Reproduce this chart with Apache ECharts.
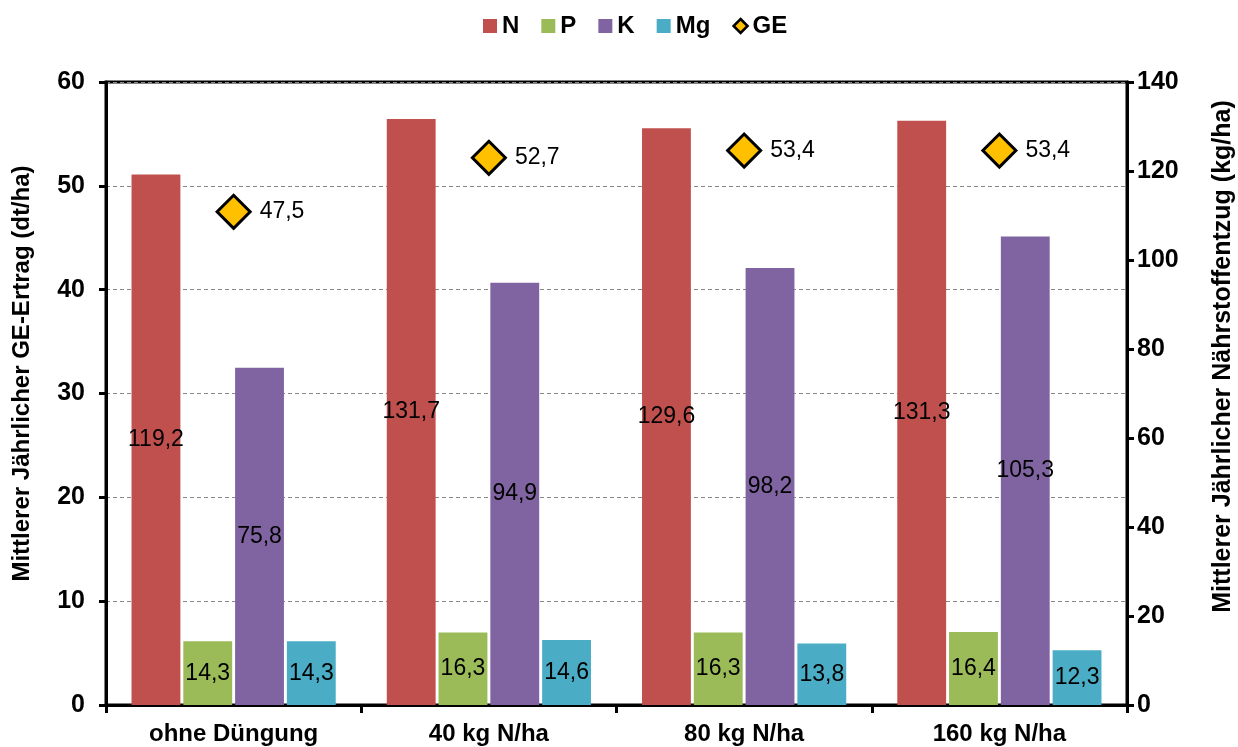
<!DOCTYPE html>
<html>
<head>
<meta charset="utf-8">
<script src="https://cdn.jsdelivr.net/npm/echarts@6/dist/echarts.min.js"></script>
<style>
  html, body { margin: 0; padding: 0; background: #fff; }
  #chart { width: 1238px; height: 747px; }
</style>
</head>
<body>
<div id="chart"></div>
<script>
  // Kategorien und Werte
  var categories = ['ohne Düngung', '40 kg N/ha', '80 kg N/ha', '160 kg N/ha'];
  var nData = [119.2, 131.7, 129.6, 131.3];
  var pData = [14.3, 16.3, 16.3, 16.4];
  var kData = [75.8, 94.9, 98.2, 105.3];
  var mgData = [14.3, 14.6, 13.8, 12.3];
  var geData = [47.5, 52.7, 53.4, 53.4];

  var font = '"Liberation Sans", Arial, sans-serif';

  function komma(p) {
    return String(p.value).replace('.', ',');
  }

  function barSeries(name, color, data) {
    return {
      name: name,
      type: 'bar',
      yAxisIndex: 1,
      barGap: '6%',
      barCategoryGap: '20%',
      itemStyle: { color: color },
      label: {
        show: true,
        position: 'inside',
        color: '#000',
        fontFamily: font,
        fontSize: 23,
        formatter: komma
      },
      data: data
    };
  }

  var myChart = echarts.init(document.getElementById('chart'));
  myChart.setOption({
    animation: false,
    textStyle: { fontFamily: font },
    legend: {
      top: 9,
      left: 478,
      itemWidth: 14,
      itemHeight: 14,
      itemGap: 22,
      textStyle: { fontFamily: font, fontSize: 24, fontWeight: 'bold', color: '#000' },
      data: [
        { name: 'N', icon: 'rect' },
        { name: 'P', icon: 'rect' },
        { name: 'K', icon: 'rect' },
        { name: 'Mg', icon: 'rect' },
        { name: 'GE', icon: 'diamond', itemStyle: { color: '#FFC000', borderColor: '#000', borderWidth: 2.5, opacity: 1 } }
      ]
    },
    grid: {
      left: 106,
      right: 111,
      top: 82,
      bottom: 42,
      outerBoundsMode: 'none',
      containLabel: false,
      show: true,
      borderColor: '#000',
      borderWidth: 3
    },
    xAxis: {
      type: 'category',
      data: categories,
      axisLine: { lineStyle: { color: '#000', width: 3 } },
      axisTick: { show: true, length: 8, lineStyle: { color: '#000', width: 3 } },
      axisLabel: { color: '#000', fontFamily: font, fontSize: 24, fontWeight: 'bold', margin: 17 }
    },
    yAxis: [
      {
        type: 'value',
        min: 0,
        max: 60,
        interval: 10,
        name: 'Mittlerer Jährlicher GE-Ertrag (dt/ha)',
        nameLocation: 'middle',
        nameGap: 72,
        nameTextStyle: { color: '#000', fontFamily: font, fontSize: 24, fontWeight: 'bold', padding: [0, 0, 0, 40] },
        axisLine: { show: true, lineStyle: { color: '#000', width: 3 } },
        axisTick: { show: true, length: 7, lineStyle: { color: '#000', width: 3 } },
        axisLabel: { color: '#000', fontFamily: font, fontSize: 25, fontWeight: 'bold', margin: 21 },
        splitLine: { show: true, lineStyle: { color: '#888', type: [4, 3], width: 1 } }
      },
      {
        type: 'value',
        min: 0,
        max: 140,
        interval: 20,
        name: 'Mittlerer Jährlicher Nährstoffentzug (kg/ha)',
        nameLocation: 'middle',
        nameGap: 84,
        nameTextStyle: { color: '#000', fontFamily: font, fontSize: 25, fontWeight: 'bold', padding: [0, 0, 0, 74] },
        axisLine: { show: true, lineStyle: { color: '#000', width: 3 } },
        axisTick: { show: true, length: 7, lineStyle: { color: '#000', width: 3 } },
        axisLabel: { color: '#000', fontFamily: font, fontSize: 25, fontWeight: 'bold', margin: 10 },
        splitLine: { show: false }
      }
    ],
    series: [
      barSeries('N', '#C0504D', nData),
      barSeries('P', '#9BBB59', pData),
      barSeries('K', '#8064A2', kData),
      barSeries('Mg', '#4BACC6', mgData),
      {
        name: 'GE',
        type: 'scatter',
        yAxisIndex: 0,
        symbol: 'diamond',
        symbolSize: 33,
        itemStyle: { color: '#FFC000', borderColor: '#000', borderWidth: 3, opacity: 1 },
        label: {
          show: true,
          position: 'right',
          distance: 8,
          color: '#000',
          fontFamily: font,
          fontSize: 23,
          formatter: komma
        },
        z: 5,
        data: geData
      }
    ]
  });
</script>
</body>
</html>
